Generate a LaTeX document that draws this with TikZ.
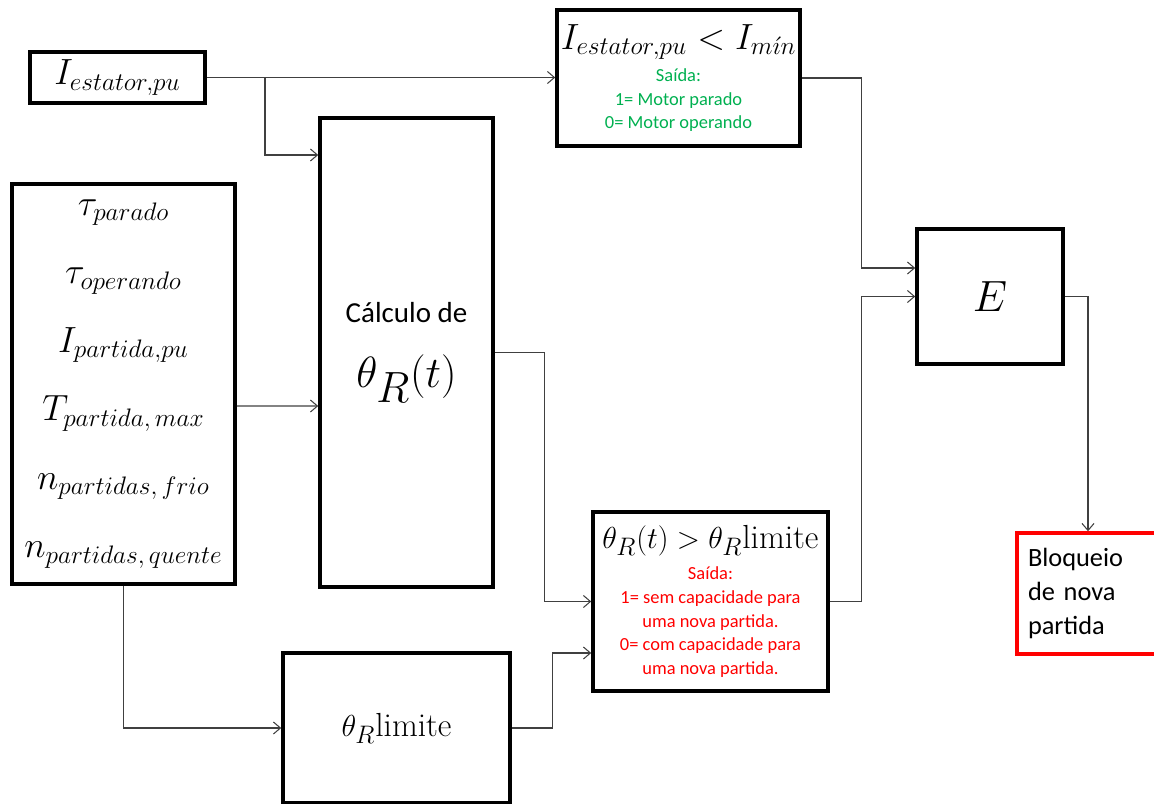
\documentclass[tikz,border=0pt]{standalone}
\usepackage{fontspec}
\newfontfamily\calibri{Carlito}
\usetikzlibrary{calc,arrows.meta}
\definecolor{saidagreen}{HTML}{00B050}
\definecolor{saidared}{HTML}{FF0000}
\definecolor{wiregray}{HTML}{404040}
\newcommand{\grn}[1]{{\color{saidagreen}#1}}
\newcommand{\rd}[1]{{\color{saidared}#1}}

\begin{document}
\begin{tikzpicture}

\tikzstyle{blockstyle} = [draw,line width=2pt,inner sep=2pt,align=center]
\tikzstyle{wire_arrow} = [-{Straight Barb[length=1.4mm,width=2.4mm]},draw=wiregray,line width=0.6pt]

\useasboundingbox (0,0) rectangle (23.08,-16.08);

\node [blockstyle,minimum width=3.5cm,minimum height=1.02cm,font=\fontsize{20}{24}\selectfont] (iest) at (2.35,-1.55) {$I_{estator,pu}$};

\node [blockstyle,minimum width=4.86cm,minimum height=2.72cm,font=\calibri\fontsize{10.5}{13.3}\selectfont] (imin) at (13.57,-1.56)
  {\rule{0pt}{12pt}{\fontsize{20}{24}\selectfont $I_{estator,pu} < I_{m\acute{\imath}n}$}\\[5pt]
   \grn{Saída:}\\ \grn{1= Motor parado}\\ \grn{0= Motor operando}};

\node [blockstyle,minimum width=4.46cm,minimum height=8cm,font=\fontsize{20}{25}\selectfont] (params) at (2.47,-7.68)
  {$\tau_{parado}$\\[14pt] $\tau_{operando}$\\[14pt] $I_{partida,pu}$\\[14pt]
   $T_{partida,\,max}$\\[14pt] $n_{partidas,\,frio}$\\[14pt] $n_{partidas,\,quente}$};

\node [blockstyle,minimum width=3.46cm,minimum height=9.38cm] (calc) at (8.13,-7.05)
  {{\calibri\fontsize{16.5}{20}\selectfont Cálculo de}\\[17pt] {\fontsize{39}{44}\selectfont $\theta_R(t)$}};

\node [blockstyle,minimum width=4.54cm,minimum height=3cm,font=\fontsize{19}{23}\selectfont] (lim) at (7.93,-14.56) {$\theta_R$limite};

\node [blockstyle,minimum width=4.7cm,minimum height=3.58cm,font=\calibri\fontsize{10.5}{13.6}\selectfont] (comp) at (14.21,-12.03)
  {\rule{0pt}{12pt}{\rmfamily\fontsize{19}{23}\selectfont $\theta_R(t) > \theta_R$limite}\\[4pt]
   \rd{Saída:}\\ \rd{1= sem capacidade para}\\ \rd{uma nova partida.}\\
   \rd{0= com capacidade para}\\ \rd{uma nova partida.}};

\node [blockstyle,minimum width=2.92cm,minimum height=2.7cm,font=\fontsize{39}{44}\selectfont] (E) at (19.8,-5.93) {$E$};

\node [blockstyle,draw=saidared,align=left,text width=2.4cm,inner sep=0.22cm,minimum height=2.42cm,
  font=\calibri\fontsize{15}{19.3}\selectfont] (bloq) at (21.76,-11.87) {Bloqueio\\de nova\\partida};

\coordinate (br1) at (5.3,-1.55);

\draw [wire_arrow] (iest.east) -- (iest.east -| imin.west);
\draw [wire_arrow] (br1) |- ([yshift=3.95cm]calc.west);
\draw [wire_arrow] ([yshift=-0.44cm]params.east) -- ([yshift=-1.07cm]calc.west);
\draw [wire_arrow] (params.south) |- (lim.west);
\draw [wire_arrow] (calc.east) -- ++(1,0) |- (comp.west);
\draw [wire_arrow] (lim.east) -- ++(0.82,0) |- ([yshift=-1.03cm]comp.west);
\draw [wire_arrow] (imin.east) -- ++(1.2,0) |- ([yshift=0.57cm]E.west);
\draw [wire_arrow] (comp.east) -- ++(0.64,0) |- (E.west);
\draw [wire_arrow] (E.east) -| (bloq.north);
\end{tikzpicture}
\end{document}
